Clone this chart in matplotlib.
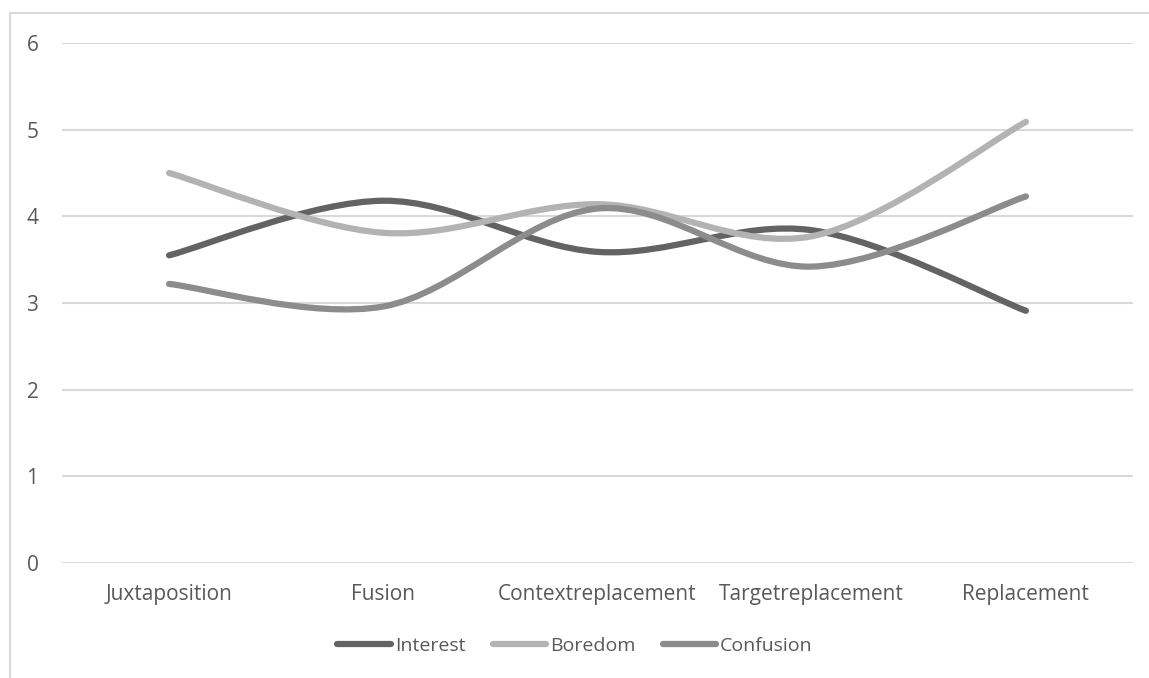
import numpy as np
import matplotlib
matplotlib.use('Agg')
import matplotlib.pyplot as plt
from matplotlib.path import Path
from matplotlib.patches import PathPatch
from matplotlib.lines import Line2D

plt.rcParams['font.family'] = ['Open Sans', 'DejaVu Sans']

categories = ['Juxtaposition', 'Fusion', 'Contextreplacement', 'Targetreplacement', 'Replacement']
interest = [3.55, 4.18, 3.59, 3.84, 2.91]
boredom = [4.50, 3.81, 4.14, 3.77, 5.09]
confusion = [3.22, 2.96, 4.09, 3.42, 4.23]

series = [('Interest', interest, '#636363'),
          ('Boredom', boredom, '#b3b3b3'),
          ('Confusion', confusion, '#8c8c8c')]

text_col = '#595959'
grid_col = '#d9d9d9'
fs = 15


def smooth_path(xs, ys):
    # cubic bezier through the points, catmull-rom style tangents
    pts = np.column_stack([xs, ys]).astype(float)
    n = len(pts)
    verts = [pts[0]]
    codes = [Path.MOVETO]
    for i in range(n - 1):
        p0 = pts[i - 1] if i > 0 else pts[i]
        p1 = pts[i]
        p2 = pts[i + 1]
        p3 = pts[i + 2] if i + 2 < n else pts[i + 1]
        c1 = p1 + (p2 - p0) / 6.0
        c2 = p2 - (p3 - p1) / 6.0
        verts += [c1, c2, p2]
        codes += [Path.CURVE4] * 3
    return Path(verts, codes)


fig = plt.figure(figsize=(11.49, 6.78), dpi=100)
ax = fig.add_axes([62 / 1149, 115 / 678, 1071 / 1149, 520 / 678])

x = np.arange(len(categories))
for name, vals, col in series:
    patch = PathPatch(smooth_path(x, vals), facecolor='none', edgecolor=col,
                      lw=4.5, capstyle='round', joinstyle='round', zorder=3)
    ax.add_patch(patch)

ax.set_xlim(-0.5, len(categories) - 0.5)
ax.set_ylim(0, 6)
ax.set_yticks(range(0, 7))
ax.set_xticks(x)
ax.set_xticklabels(categories)
ax.grid(axis='y', color=grid_col, lw=1.5)
ax.set_axisbelow(True)
for s in ax.spines.values():
    s.set_visible(False)
ax.tick_params(axis='both', length=0, labelsize=fs, colors=text_col)
ax.tick_params(axis='y', pad=17)
ax.tick_params(axis='x', pad=15)

handles = [Line2D([0], [0], color=col, lw=4.5, solid_capstyle='round')
           for _, _, col in series]
leg = ax.legend(handles, [s[0] for s in series], ncol=3, loc='center',
                bbox_to_anchor=(575 / 1149, 32 / 678), bbox_transform=fig.transFigure,
                frameon=False, fontsize=14, handlelength=2.75, handletextpad=0.2,
                columnspacing=1.4)
for t in leg.get_texts():
    t.set_color(text_col)

# chart area border, left and top edges
fig.add_artist(Line2D([10 / 1149, 10 / 1149], [0, 665 / 678], color=grid_col, lw=1.5,
                      transform=fig.transFigure))
fig.add_artist(Line2D([10 / 1149, 1], [665 / 678, 665 / 678], color=grid_col, lw=1.5,
                      transform=fig.transFigure))

fig.savefig('out.png', dpi=100)
